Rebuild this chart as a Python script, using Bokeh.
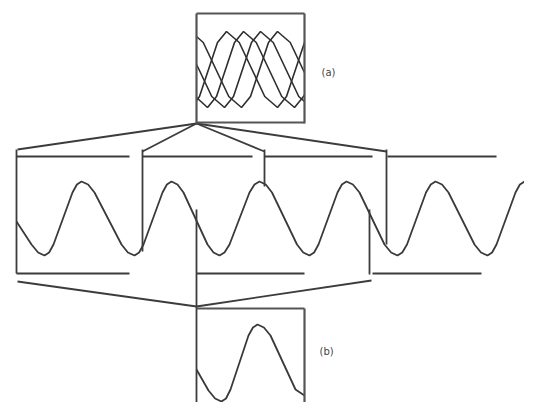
from bokeh.plotting import figure
from bokeh.models import Range1d, ColumnDataSource
from bokeh.core.properties import value
from bokeh.embed import file_html
from bokeh.resources import INLINE

# ---- data (in picture pixel units, y downward) ----
# long signal
wave_x = [17, 32, 38.6, 45, 49.6, 54, 63.5, 73, 77.4, 82, 88.6, 95, 108.5, 122, 128.4, 135,
          139.6, 144, 153.5, 163, 167.4, 172, 178, 184, 196, 208, 214, 220,
          225, 230, 240, 250, 255, 260, 266.25, 272.5, 285, 297.5, 303.75, 310,
          314.6, 319, 328.5, 338, 342.4, 347, 353.4, 360, 372.5, 385, 391.6, 398,
          402.75, 407.5, 417, 426.5, 431.25, 436, 442.5, 449, 462, 475, 481.5, 488,
          492.6, 497, 506.5, 516, 520.4, 525, 531.4, 540]
wave_y = [222, 245, 253, 256, 253, 245, 219, 193, 185, 182, 185, 193, 219, 245, 253, 256,
          253, 245, 219, 193, 185, 182, 185, 193, 219, 245, 253, 256,
          253, 245, 219, 193, 185, 182, 185, 193, 219, 245, 253, 256,
          253, 245, 219, 193, 185, 182, 185, 193, 219, 245, 253, 256,
          253, 245, 219, 193, 185, 182, 185, 193, 219, 245, 253, 256,
          253, 245, 219, 193, 185, 182, 185, 197]

# (b) one window of the signal
win_x = [197, 209, 215.6, 222, 226.5, 231, 240, 249, 253.5, 258, 264.4, 271, 283.5, 296, 305]
win_y = [370, 391, 399, 402, 399, 390, 363, 336, 328, 325, 328, 336, 363, 390, 396]

# (a) overlaid windows
ov1_x = [197, 200, 209, 218, 227, 239.75, 252.5, 265.25, 278, 287, 296, 305]
ov1_y = [101, 97, 70, 43, 32, 43, 70, 97, 108, 97, 70, 43]
ov2_x = [197, 208, 217, 226, 235, 244, 256.75, 269.5, 282.25, 295, 304, 305]
ov2_y = [98, 108, 97, 70, 43, 32, 43, 70, 97, 108, 97, 95]
ov3_x = [197, 199.5, 212.25, 225, 234, 243, 252, 261, 273.75, 286.5, 299.25, 305]
ov3_y = [65, 70, 97, 108, 97, 70, 43, 32, 43, 70, 97, 102]
ov4_x = [197, 203.75, 216.5, 229.25, 242, 251, 260, 269, 278, 290.75, 303.5, 305]
ov4_y = [37, 43, 70, 97, 108, 97, 70, 43, 32, 43, 70, 73]

# connecting / bracket segments
seg_x0 = [197, 197, 197, 197,   17, 143, 265, 388,   17, 143, 265, 387, 197, 370,   17, 197, 373,   18, 197]
seg_y0 = [124, 124, 124, 124,  157, 157, 157, 157,  150, 150, 150, 150, 210, 210,  274, 274, 274,  282, 307]
seg_x1 = [18, 143, 265, 387,  130, 253, 373, 497,   17, 143, 265, 387, 197, 370,  130, 305, 482,  197, 372]
seg_y1 = [150, 152, 152, 152,  157, 157, 157, 157,  274, 252, 187, 245, 418, 275,  274, 274, 274,  307, 281]

# frames of the two boxes
box_x0 = [197, 197, 305, 197,   197, 305]
box_y0 = [14, 14, 14, 123,      309, 309]
box_x1 = [305, 197, 305, 305,   305, 305]
box_y1 = [14, 124, 124, 123,    309, 418]

labels = ["(a)", "(b)"]
label_x = [322, 320]
label_y = [73, 352]

# ---- figure ----
p = figure(width=524, height=402, output_backend="svg", toolbar_location=None,
           x_range=Range1d(1, 525), y_range=Range1d(403, 1), min_border=0)
p.axis.visible = False
p.grid.visible = False
p.outline_line_color = None
p.background_fill_color = "white"

p.line(wave_x, wave_y, line_color="#3a3a3a", line_width=1.8)
p.line(win_x, win_y, line_color="#3a3a3a", line_width=1.8)
for xs, ys in [(ov1_x, ov1_y), (ov2_x, ov2_y), (ov3_x, ov3_y), (ov4_x, ov4_y)]:
    p.line(xs, ys, line_color="#2e2e2e", line_width=1.6)

p.segment(x0=seg_x0, y0=seg_y0, x1=seg_x1, y1=seg_y1, line_color="#3c3c3c", line_width=1.8)
p.segment(x0=box_x0, y0=box_y0, x1=box_x1, y1=box_y1, line_color="#555555", line_width=2.2)

src = ColumnDataSource(dict(x=label_x, y=label_y, t=labels))
p.text(x="x", y="y", text="t", source=src, text_font=value("DejaVu Sans"),
       text_font_size="10px", text_color="#444444", text_baseline="middle", text_align="left")

open("out.html", "w").write(file_html(p, INLINE))
